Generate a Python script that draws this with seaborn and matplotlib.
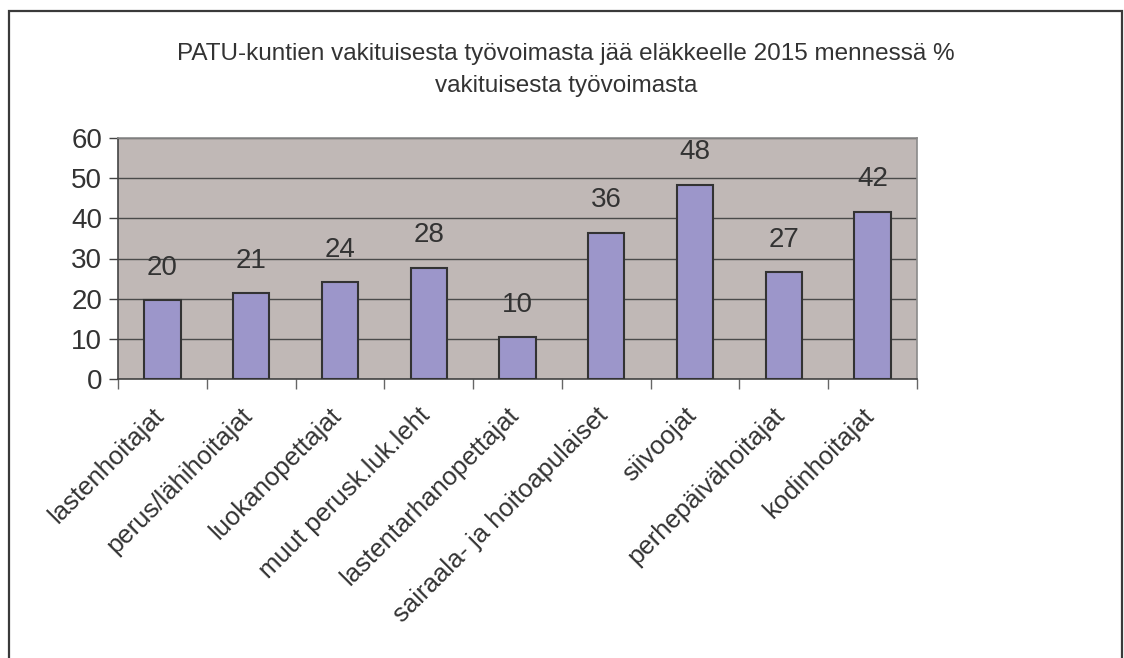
import numpy as np
import pandas as pd
import seaborn as sns
from matplotlib import pyplot as plt
from matplotlib.patches import Rectangle
from matplotlib.transforms import ScaledTranslation

categories = [
    'lastenhoitajat', 'perus/lähihoitajat', 'luokanopettajat', 'muut perusk.luk.leht',
    'lastentarhanopettajat', 'sairaala- ja hoitoapulaiset', 'siivoojat', 'perhepäivähoitajat',
    'kodinhoitajat']
values = [19.6, 21.3, 24.1, 27.7, 10.4, 36.4, 48.4, 26.6, 41.6]
value_labels = ['20', '21', '24', '28', '10', '36', '48', '27', '42']
y_ticks = [0, 10, 20, 30, 40, 50, 60]
title = 'PATU-kuntien vakituisesta työvoimasta jää eläkkeelle 2015 mennessä %\nvakituisesta työvoimasta'

sns.set_style('white')
plt.rcParams['font.family'] = ['Liberation Sans', 'DejaVu Sans']
text_color = '#333333'

df = pd.DataFrame({'ammatti': categories, 'osuus': values})

fig = plt.figure(figsize=(11.24, 6.58), dpi=100)
ax = fig.add_axes([118 / 1124, 1 - 379 / 658, 799 / 1124, 241 / 658])
ax.set_facecolor('#C0B8B6')

sns.barplot(df, x='ammatti', y='osuus', color='#9C96CA', saturation=1, width=0.41,
            edgecolor='#333333', linewidth=1.5, ax=ax, zorder=3)
ax.bar_label(ax.containers[0], labels=value_labels, padding=14, fontsize=20, color=text_color)

ax.set_ylim(0, 60)
ax.set_xlim(-0.5, len(categories) - 0.5)
ax.set_yticks(y_ticks)
ax.yaxis.grid(True, color='#4a4a4a', linewidth=1, zorder=1)
ax.set_axisbelow(True)
ax.set_xlabel('')
ax.set_ylabel('')

ax.tick_params(axis='y', labelsize=20, labelcolor=text_color, left=True, length=6.5, width=1,
               color='#444444', pad=5)
ax.set_xticks(range(len(categories)))
ax.set_xticklabels(categories, rotation=45, ha='right', rotation_mode='anchor', fontsize=18.5, color=text_color)
ax.tick_params(axis='x', which='major', length=0, pad=16)
# Excel-style labels sit a little left of the category centre
shift = ScaledTranslation(-0.11, -0.02, fig.dpi_scale_trans)
for lbl in ax.get_xticklabels():
    lbl.set_transform(lbl.get_transform() + shift)
ax.set_xticks(np.arange(-0.5, len(categories), 1), minor=True)
ax.tick_params(axis='x', which='minor', bottom=True, length=7, width=1, color='#666666')

for side in ['left', 'bottom']:
    ax.spines[side].set_color('#444444')
    ax.spines[side].set_linewidth(1.2)
for side in ['top', 'right']:
    ax.spines[side].set_color('#8a8a8a')
    ax.spines[side].set_linewidth(1.2)

fig.text(566 / 1124, 1 - 70 / 658, title, ha='center', va='center', fontsize=17.5,
         color=text_color, linespacing=1.6)

fig.add_artist(Rectangle((9 / 1124, -0.1), 1113 / 1124, 1.1 - 11 / 658, transform=fig.transFigure,
                         fill=False, edgecolor='#3a3a3a', linewidth=1.6))

fig.savefig('out.png', dpi=100)
